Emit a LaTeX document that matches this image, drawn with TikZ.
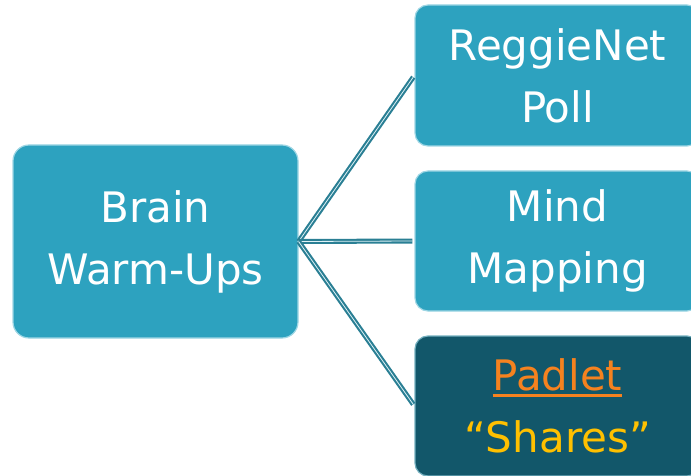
\documentclass[tikz,border=0pt]{standalone}
\usepackage{fontspec}
\setmainfont{DejaVu Sans}
\definecolor{boxfill}{HTML}{2DA2BF}
\definecolor{boxline}{HTML}{9ED6E4}
\definecolor{darkfill}{HTML}{12576A}
\definecolor{linkcol}{HTML}{2A7F94}
\definecolor{linklight}{HTML}{DDF1F6}
\definecolor{padorange}{HTML}{F5821F}
\definecolor{shareyellow}{HTML}{FFC000}
\newcommand\myul[1]{\setbox0\hbox{#1}\rlap{\rule[-6pt]{\wd0}{2.4pt}}\box0}
\tikzset{
  box/.style={draw=boxline, line width=1.2pt, fill=boxfill, rounded corners=13pt,
    inner sep=0pt, align=center, text=white, font=\fontsize{42}{62}\selectfont},
  link/.style={draw=linkcol, line width=2.1pt, double=linklight, double distance=0.8pt, shorten >=2pt}
}
\begin{document}
\begin{tikzpicture}[x=1pt,y=-1pt]
\useasboundingbox (0,0) rectangle (691,476);
\node[box, minimum width=285pt, minimum height=193pt, rounded corners=16pt] (brain) at (155.5,241.5) {Brain\\Warm-Ups};
\node[box, minimum width=285pt, minimum height=141pt] (poll) at (557.5,75.5) {ReggieNet\\Poll};
\node[box, minimum width=285pt, minimum height=140pt] (mind) at (557.5,241) {Mind\\Mapping};
\node[box, fill=darkfill, draw=boxline!70!darkfill, minimum width=285pt, minimum height=140pt] (padlet) at (557.5,406) {\textcolor{padorange}{\myul{Padlet}}\\\textcolor{shareyellow}{“Shares”}};
\draw[link] (brain.east) -- (poll.west);
\draw[link] (brain.east) -- (mind.west);
\draw[link] (brain.east) -- (padlet.west);
\end{tikzpicture}
\end{document}
